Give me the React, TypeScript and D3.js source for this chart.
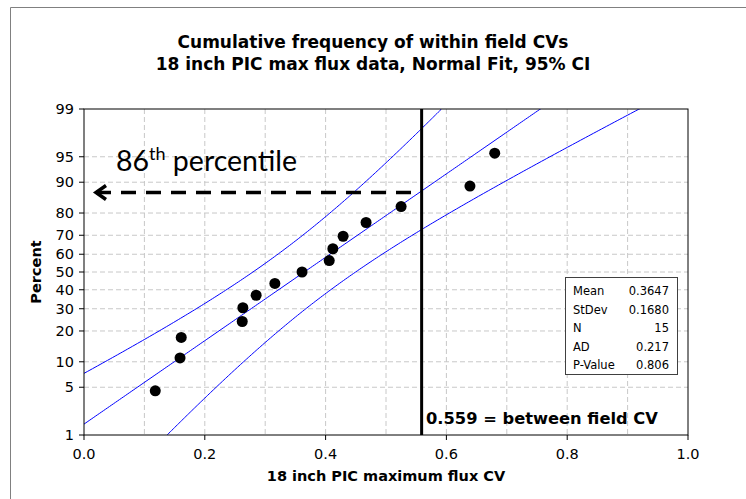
import React from 'react';
import * as d3 from 'd3';

// ---------- data ----------
const xTicks = [0, 0.2, 0.4, 0.6, 0.8, 1.0];
const xGrid = [0.1, 0.2, 0.3, 0.4, 0.5, 0.6, 0.7, 0.8, 0.9];
const yTicks = [1, 5, 10, 20, 30, 40, 50, 60, 70, 80, 90, 95, 99];
const cvValues = [0.118, 0.159, 0.161, 0.262, 0.263, 0.285, 0.316, 0.361, 0.406, 0.412, 0.429, 0.467, 0.525, 0.639, 0.680];
const percentValues = [4.5, 11.0, 17.5, 24.0, 30.5, 37.0, 43.5, 50.0, 56.5, 63.0, 69.5, 76.0, 82.5, 89.0, 95.5];
const statLabels = ['Mean', 'StDev', 'N', 'AD', 'P-Value'];
const statValues = ['0.3647', '0.1680', '15', '0.217', '0.806'];
const fitMean = 0.3647;
const fitSd = 0.168;
const fitN = 15;
const betweenFieldCV = 0.559;
const titleLines = ['Cumulative frequency of within field CVs', '18 inch PIC max flux data, Normal Fit, 95% CI'];

function probit(p: number): number {
  const a = [-3.969683028665376e1, 2.209460984245205e2, -2.759285104469687e2, 1.38357751867269e2, -3.066479806614716e1, 2.506628277459239];
  const b = [-5.447609879822406e1, 1.615858368580409e2, -1.556989798598866e2, 6.680131188771972e1, -1.328068155288572e1];
  const c = [-7.784894002430293e-3, -3.223964580411365e-1, -2.400758277161838, -2.549732539343734, 4.374664141464968, 2.938163982698783];
  const d = [7.784695709041462e-3, 3.224671290700398e-1, 2.445134137142996, 3.754408661907416];
  const plow = 0.02425;
  if (p < plow) {
    const q = Math.sqrt(-2 * Math.log(p));
    return (((((c[0] * q + c[1]) * q + c[2]) * q + c[3]) * q + c[4]) * q + c[5]) / ((((d[0] * q + d[1]) * q + d[2]) * q + d[3]) * q + 1);
  }
  if (p > 1 - plow) {
    const q = Math.sqrt(-2 * Math.log(1 - p));
    return -(((((c[0] * q + c[1]) * q + c[2]) * q + c[3]) * q + c[4]) * q + c[5]) / ((((d[0] * q + d[1]) * q + d[2]) * q + d[3]) * q + 1);
  }
  const q = p - 0.5;
  const r = q * q;
  return ((((((a[0] * r + a[1]) * r + a[2]) * r + a[3]) * r + a[4]) * r + a[5]) * q) / (((((b[0] * r + b[1]) * r + b[2]) * r + b[3]) * r + b[4]) * r + 1);
}

const W = 746, H = 499;
const L = 84, R = 688, T = 109, B = 435;
const FONT = 'DejaVu Sans, Verdana, sans-serif';

export default function App() {
  const x = d3.scaleLinear().domain([0, 1]).range([L, R]);
  const yZ = d3.scaleLinear().domain([probit(0.01), probit(0.99)]).range([B, T]);
  const y = (pct: number) => yZ(probit(pct / 100));

  const zs = d3.range(-3.5, 3.5001, 0.02);
  const line = d3.line<[number, number]>().x(d => d[0]).y(d => d[1]);
  const se = (z: number) => fitSd * Math.sqrt(1 / fitN + (z * z) / (2 * fitN));
  const fitPath = line(zs.map(z => [x(fitMean + z * fitSd), yZ(z)] as [number, number]));
  const upPath = line(zs.map(z => [x(fitMean + z * fitSd - 1.96 * se(z)), yZ(z)] as [number, number]));
  const loPath = line(zs.map(z => [x(fitMean + z * fitSd + 1.96 * se(z)), yZ(z)] as [number, number]));

  const zAt = (betweenFieldCV - fitMean) / fitSd;
  const arrowY = yZ(zAt) + 1.5;
  const vx = x(betweenFieldCV);

  return (
    <svg width={W} height={H} style={{ position: 'absolute', left: 0, top: 0, background: '#fff' }} fontFamily={FONT}>
      <defs>
        <clipPath id="plotclip">
          <rect x={L} y={T} width={R - L} height={B - T} />
        </clipPath>
      </defs>
      <rect x={0} y={0} width={W} height={H} fill="#fff" />
      {/* outer frame */}
      <path d={`M10.5,${H} V7.5 H${W}`} fill="none" stroke="#808080" strokeWidth={1} />

      {/* titles */}
      {titleLines.map((t, i) => (
        <text key={i} x={373} y={48 + i * 22} textAnchor="middle" fontSize={17} fontWeight="bold" fill="#000">{t}</text>
      ))}

      {/* grid */}
      {xGrid.map(g => (
        <line key={'gx' + g} x1={x(g)} x2={x(g)} y1={T} y2={B} stroke="#c8c8c8" strokeDasharray="5,3" />
      ))}
      {yTicks.slice(1, -1).map(g => (
        <line key={'gy' + g} x1={L} x2={R} y1={y(g)} y2={y(g)} stroke="#c8c8c8" strokeDasharray="5,3" />
      ))}

      {/* fit and CI lines */}
      <g clipPath="url(#plotclip)" fill="none" stroke="#0000ff" strokeWidth={1}>
        <path d={fitPath || ''} />
        <path d={upPath || ''} />
        <path d={loPath || ''} />
      </g>

      {/* frame */}
      <rect x={L} y={T} width={R - L} height={B - T} fill="none" stroke="#000" strokeWidth={1} />

      {/* x axis ticks */}
      {xTicks.map(t => (
        <g key={'xt' + t}>
          <line x1={x(t)} x2={x(t)} y1={B} y2={B + 5} stroke="#000" />
          <text x={x(t)} y={459} textAnchor="middle" fontSize={14.5} fill="#000">{t.toFixed(1)}</text>
        </g>
      ))}
      {/* y axis ticks */}
      {yTicks.map(t => (
        <g key={'yt' + t}>
          <line x1={L - 5} x2={L} y1={y(t)} y2={y(t)} stroke="#000" />
          <text x={74} y={y(t) + 5} textAnchor="end" fontSize={14.5} fill="#000">{t}</text>
        </g>
      ))}
      <text x={(L + R) / 2} y={481} textAnchor="middle" fontSize={14.5} fontWeight="bold">18 inch PIC maximum flux CV</text>
      <text transform={`translate(41,${(T + B) / 2}) rotate(-90)`} textAnchor="middle" fontSize={14.5} fontWeight="bold">Percent</text>

      {/* points */}
      {cvValues.map((v, i) => (
        <circle key={'p' + i} cx={x(v)} cy={y(percentValues[i])} r={5.5} fill="#000" />
      ))}

      {/* vertical line */}
      <line x1={vx} x2={vx} y1={T} y2={B} stroke="#000" strokeWidth={3} />
      <text x={426} y={424} fontSize={16.3} fontWeight="bold">0.559 = between field CV</text>

      {/* arrow */}
      <line x1={96} x2={418} y1={arrowY} y2={arrowY} stroke="#000" strokeWidth={3.5} strokeDasharray="15,10" />
      <path d={`M106,${arrowY - 7} L96,${arrowY} L106,${arrowY + 7}`} fill="none" stroke="#000" strokeWidth={3.5} />
      <text x={116} y={170.5} fontFamily="Lato, Open Sans, sans-serif" fontSize={28.5} fill="#000">
        86<tspan fontSize={18} dy={-11}>th</tspan><tspan dy={11}> percentile</tspan>
      </text>

      {/* stats box */}
      <rect x={565.5} y={277.5} width={112} height={97} fill="#fff" stroke="#404040" strokeWidth={1} />
      {statLabels.map((s, i) => (
        <g key={'s' + i}>
          <text x={573} y={295 + i * 18.5} fontSize={11.5} fill="#000">{s}</text>
          <text x={669} y={295 + i * 18.5} fontSize={11.5} textAnchor="end" fill="#000">{statValues[i]}</text>
        </g>
      ))}
    </svg>
  );
}
